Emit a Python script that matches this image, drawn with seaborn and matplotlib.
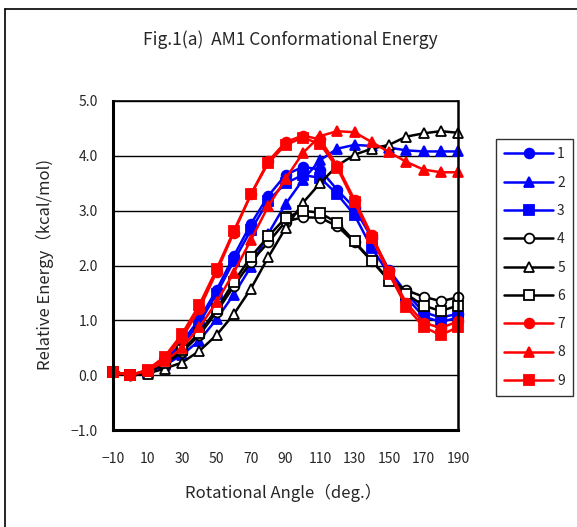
import matplotlib
matplotlib.use("Agg")
import matplotlib.pyplot as plt
from matplotlib.lines import Line2D
from matplotlib.ticker import MultipleLocator, FixedLocator, FuncFormatter
import seaborn as sns
import pandas as pd

angles = [-10, 0, 10, 20, 30, 40, 50, 60, 70, 80, 90, 100, 110, 120, 130, 140, 150, 160, 170, 180, 190]

s1 = [0.06, 0, 0.07, 0.25, 0.60, 1.02, 1.55, 2.17, 2.76, 3.27, 3.65, 3.80, 3.75, 3.38, 3.05, 2.50, 1.92, 1.50, 1.15, 1.05, 1.12]
s2 = [0.06, 0, 0.05, 0.18, 0.37, 0.63, 1.02, 1.47, 1.98, 2.58, 3.12, 3.56, 3.92, 4.13, 4.20, 4.18, 4.15, 4.10, 4.08, 4.08, 4.08]
s3 = [0.06, 0, 0.06, 0.23, 0.55, 0.95, 1.48, 2.08, 2.65, 3.18, 3.50, 3.65, 3.60, 3.30, 2.92, 2.32, 1.84, 1.42, 1.07, 0.97, 1.05]
s4 = [0.06, 0, 0.06, 0.20, 0.42, 0.73, 1.15, 1.62, 2.07, 2.42, 2.80, 2.88, 2.87, 2.72, 2.42, 2.08, 1.75, 1.55, 1.43, 1.35, 1.42]
s5 = [0.06, 0, 0.03, 0.12, 0.23, 0.44, 0.73, 1.11, 1.58, 2.15, 2.68, 3.14, 3.50, 3.82, 4.02, 4.13, 4.20, 4.35, 4.41, 4.45, 4.42]
s6 = [0.06, 0, 0.07, 0.22, 0.45, 0.77, 1.20, 1.70, 2.16, 2.53, 2.87, 3.00, 2.96, 2.78, 2.44, 2.09, 1.72, 1.48, 1.27, 1.17, 1.27]
s7 = [0.06, 0, 0.09, 0.30, 0.68, 1.20, 1.88, 2.60, 3.30, 3.90, 4.25, 4.37, 4.30, 3.82, 3.20, 2.55, 1.90, 1.32, 0.96, 0.86, 0.98]
s8 = [0.06, 0, 0.08, 0.25, 0.50, 0.87, 1.33, 1.87, 2.47, 3.08, 3.58, 4.05, 4.36, 4.45, 4.43, 4.25, 4.07, 3.89, 3.75, 3.70, 3.70]
s9 = [0.06, 0, 0.10, 0.34, 0.75, 1.28, 1.93, 2.63, 3.30, 3.87, 4.20, 4.33, 4.22, 3.78, 3.15, 2.50, 1.85, 1.25, 0.88, 0.73, 0.88]

series_names = ["1", "2", "3", "4", "5", "6", "7", "8", "9"]
series_values = [s1, s2, s3, s4, s5, s6, s7, s8, s9]

x_tick_labels = [-10, 10, 30, 50, 70, 90, 110, 130, 150, 170, 190]
y_tick_labels = [-1.0, 0.0, 1.0, 2.0, 3.0, 4.0, 5.0]

title = "Fig.1(a)  AM1 Conformational Energy"
xlabel = "Rotational Angle（deg.）"
ylabel = "Relative Energy（kcal/mol)"

styles = {
    "1": dict(color="#0000FF", marker="o", mfc="#0000FF"),
    "2": dict(color="#0000FF", marker="^", mfc="#0000FF"),
    "3": dict(color="#0000FF", marker="s", mfc="#0000FF"),
    "4": dict(color="black", marker="o", mfc="white"),
    "5": dict(color="black", marker="^", mfc="white"),
    "6": dict(color="black", marker="s", mfc="white"),
    "7": dict(color="#FF0000", marker="o", mfc="#FF0000"),
    "8": dict(color="#FF0000", marker="^", mfc="#FF0000"),
    "9": dict(color="#FF0000", marker="s", mfc="#FF0000"),
}

sns.set_style("white")
plt.rcParams["font.family"] = ["Noto Sans CJK JP", "DejaVu Sans"]

W, H = 577, 527
fig = plt.figure(figsize=(W / 100, H / 100), dpi=100)
fig.patch.set_facecolor("white")

ax = fig.add_axes([113 / W, 1 - 430 / H, 345 / W, 329 / H])

rows = []
for name, vals in zip(series_names, series_values):
    for a, v in zip(angles, vals):
        rows.append({"angle": a, "energy": v, "series": name})
df = pd.DataFrame(rows)

handles = []
for name in series_names:
    st = styles[name]
    sub = df[df["series"] == name]
    sns.lineplot(data=sub, x="angle", y="energy", ax=ax, sort=False,
                 color=st["color"], marker=st["marker"], markersize=7,
                 markerfacecolor=st["mfc"], markeredgecolor=st["color"],
                 markeredgewidth=1.3, linewidth=1.8, legend=False, clip_on=False)
    handles.append(Line2D([0], [0], color=st["color"], marker=st["marker"],
                          markersize=7, markerfacecolor=st["mfc"],
                          markeredgecolor=st["color"], markeredgewidth=1.3,
                          linewidth=1.8))

ax.set_xlim(-10, 190)
ax.set_ylim(-1, 5)

ax.xaxis.set_major_locator(FixedLocator(x_tick_labels))
ax.xaxis.set_minor_locator(MultipleLocator(10))
ax.set_xticklabels([str(v).replace("-", "\u2212") for v in x_tick_labels])
ax.yaxis.set_major_locator(FixedLocator(y_tick_labels))
ax.yaxis.set_minor_locator(MultipleLocator(0.25))
ax.yaxis.set_major_formatter(FuncFormatter(lambda v, p: f"{v:.1f}".replace("-", "\u2212")))

ax.tick_params(axis="both", which="both", direction="in", color="black")
ax.tick_params(axis="x", which="both", length=5, width=1.2, pad=16, labelsize=10)
ax.tick_params(axis="y", which="both", length=4, width=1.2, pad=11, labelsize=10)
ax.tick_params(top=False, right=False, which="both")

ax.yaxis.grid(True, which="major", color="black", linewidth=1.0)
ax.xaxis.grid(False)
ax.set_axisbelow(True)

for side, lw in [("left", 2.2), ("bottom", 2.2), ("top", 1.2), ("right", 1.8)]:
    ax.spines[side].set_visible(True)
    ax.spines[side].set_color("black")
    ax.spines[side].set_linewidth(lw)

ax.set_xlabel("")
ax.set_ylabel("")
fig.text(283 / W, 1 - 493 / H, xlabel, ha="center", va="center", fontsize=12)
fig.text(45 / W, 1 - 265 / H, ylabel, ha="center", va="center", fontsize=12, rotation=90)
fig.text(290 / W, 1 - 40 / H, title, ha="center", va="center", fontsize=12.5)

leg = ax.legend(handles, series_names, loc="upper left",
                bbox_to_anchor=(496 / W, 1 - 139 / H), bbox_transform=fig.transFigure,
                frameon=True, fancybox=False, edgecolor="black", fontsize=10,
                handlelength=3.5, handletextpad=0.3, labelspacing=1.03,
                borderpad=0.6, borderaxespad=0)
leg.get_frame().set_linewidth(1.0)

# outer chart border (left and top visible)
fig.add_artist(Line2D([5 / W, 5 / W], [0, 1 - 9 / H], transform=fig.transFigure, color="black", lw=1.2))
fig.add_artist(Line2D([5 / W, 1], [1 - 9 / H, 1 - 9 / H], transform=fig.transFigure, color="black", lw=1.2))

fig.savefig("out.png", dpi=100)
